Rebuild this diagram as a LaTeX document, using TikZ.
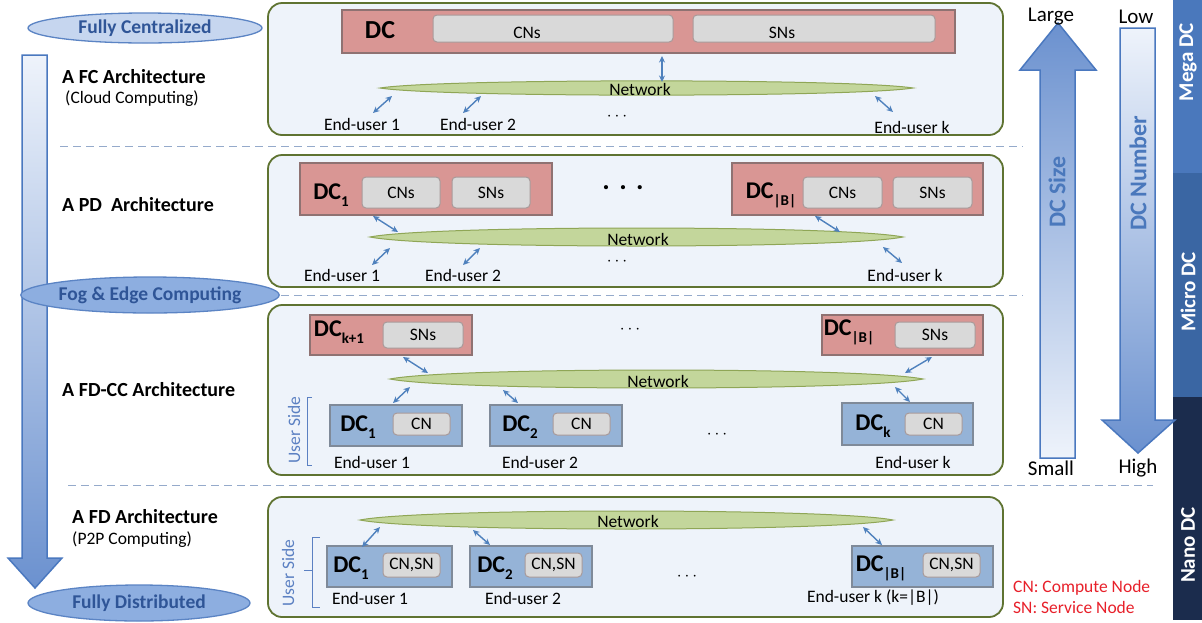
\documentclass[tikz,border=0pt]{standalone}
\usepackage{fontspec}
\setmainfont{Carlito}
\usetikzlibrary{arrows.meta,shapes.geometric,calc}
\definecolor{panelfill}{HTML}{EEF3FA}
\definecolor{panelborder}{HTML}{5F7331}
\definecolor{redfill}{HTML}{D99694}
\definecolor{redborder}{HTML}{8F7272}
\definecolor{bluefill}{HTML}{95B3D7}
\definecolor{blueborder}{HTML}{7F8A99}
\definecolor{grayfill}{HTML}{D9D9D9}
\definecolor{grayborder}{HTML}{A89A9A}
\definecolor{netfill}{HTML}{C3D69B}
\definecolor{netborder}{HTML}{8FA656}
\definecolor{arrowblue}{HTML}{4F81BD}
\definecolor{sepcol}{HTML}{95AACB}
\definecolor{ellborder}{HTML}{5B84C4}
\definecolor{ellfillA}{HTML}{C6D6EF}
\definecolor{ellfillB}{HTML}{8DAEE0}
\definecolor{elltext}{HTML}{2F5597}
\definecolor{userside}{HTML}{5B80C2}
\definecolor{legendred}{HTML}{E8202A}
\definecolor{megacol}{HTML}{4A78BC}
\definecolor{microcol}{HTML}{3A66A3}
\definecolor{nanocol}{HTML}{1B2C4D}
\definecolor{arrowdark}{HTML}{6B91CF}
\definecolor{arrowlight}{HTML}{EEF3FB}
\definecolor{arrowborder}{HTML}{4A78BF}
\newcommand\dcs[1]{\raisebox{-0.3em}{\fontsize{15}{15}\selectfont #1}}
\newcommand\lens[4]{\draw[netw] (#1,#3) .. controls (#1+60,#3-#4) and (#2-60,#3-#4) .. (#2,#3) .. controls (#2-60,#3+#4) and (#1+60,#3+#4) .. cycle;}
\begin{document}
\begin{tikzpicture}[x=1pt,y=-1pt,
  panel/.style={draw=panelborder,fill=panelfill,line width=1.8pt,rounded corners=14pt},
  reddc/.style={draw=redborder,fill=redfill,line width=1.5pt,inner sep=0pt,outer sep=0pt},
  bluedc/.style={draw=blueborder,fill=bluefill,line width=1.5pt,inner sep=0pt,outer sep=0pt},
  subbox/.style={draw=grayborder,fill=grayfill,line width=1pt,rounded corners=4pt,inner sep=0pt,outer sep=0pt,font=\fontsize{17.5}{18}\selectfont},
  biarrow/.style={draw=arrowblue,line width=1.4pt,{Stealth[length=6.5pt,width=6pt]}-{Stealth[length=6.5pt,width=6pt]}},
  lbl/.style={font=\fontsize{17.5}{18}\selectfont,inner sep=0pt},
  dclbl/.style={font=\bfseries\fontsize{24}{24}\selectfont,inner sep=0pt},
  archlbl/.style={font=\bfseries\fontsize{20}{22}\selectfont,inner sep=0pt,anchor=west},
  sublbl/.style={font=\fontsize{17.5}{18}\selectfont,inner sep=0pt,anchor=west},
  sep/.style={draw=sepcol,dash pattern=on 8pt off 5pt,line width=1pt},
  netw/.style={draw=netborder,fill=netfill,line width=1pt},
  ell/.style={ellipse,draw=ellborder,line width=1.3pt,inner sep=0pt,text=elltext,font=\bfseries\fontsize{19.5}{20}\selectfont},
  sidelbl/.style={rotate=90,text=megacol,font=\bfseries\fontsize{24}{24}\selectfont,inner sep=0pt},
  barlbl/.style={rotate=90,text=white,font=\bfseries\fontsize{21}{21}\selectfont,inner sep=0pt},
  scalelbl/.style={font=\fontsize{21}{21}\selectfont,inner sep=0pt},
  usl/.style={rotate=90,text=userside,font=\fontsize{17.5}{18}\selectfont,inner sep=0pt},
  legend/.style={text=legendred,font=\fontsize{17.5}{18}\selectfont,inner sep=0pt,anchor=west},
  dots/.style={font=\fontsize{17.5}{18}\selectfont,inner sep=0pt},
  bigdots/.style={font=\bfseries\fontsize{28}{28}\selectfont,inner sep=0pt}
]
\useasboundingbox (0,0) rectangle (1202,622);
\fill[white] (0,0) rectangle (1202,622);

% ---------- panels ----------
\draw[panel] (268,3) rectangle (1003,135);
\draw[panel] (268,155) rectangle (1003,287);
\draw[panel] (268,305) rectangle (1003,475);
\draw[panel] (268,497) rectangle (1003,617);

% ---------- separators ----------
\draw[sep] (60,146) -- (1023,146);
\draw[sep] (268,295) -- (1023,295);
\draw[sep] (68,485) -- (1153,485);

% ---------- panel 1 ----------
\node[reddc,minimum width=613pt,minimum height=43pt] (dc0) at (648.5,31.5) {};
\node[dclbl,font=\bfseries\fontsize{26}{26}\selectfont] (dc0l) at (380,30) {DC};
\node[subbox,minimum width=240pt,minimum height=27pt] (cn0) at (553,28.5) {};
\node[lbl] (cn0l) at (527,33) {CNs};
\node[subbox,minimum width=242pt,minimum height=27pt] (sn0) at (814,28.5) {};
\node[lbl] (sn0l) at (782,33) {SNs};
\lens{380}{913}{88}{9.5}
\node[lbl] (net1) at (640,89) {Network};
\path (662,56) coordinate (p1a) (662,82) coordinate (p1b);
\draw[biarrow] (p1a) -- (p1b);
\node[lbl] (eu1a) at (362,124) {End-user 1};
\node[lbl] (eu1b) at (478,124) {End-user 2};
\node[dots] (d1) at (617,117) {$\cdot$\,$\cdot$\,$\cdot$};
\node[lbl] (eu1k) at (912,127) {End-user k};
\path (373,113) coordinate (q1a) (392,96) coordinate (q1b)
      (463,113) coordinate (q2a) (481,96) coordinate (q2b)
      (875,96) coordinate (q3a) (893,112) coordinate (q3b);
\draw[biarrow] (q1a) -- (q1b);
\draw[biarrow] (q2a) -- (q2b);
\draw[biarrow] (q3a) -- (q3b);

% ---------- panel 2 ----------
\node[reddc,minimum width=252pt,minimum height=52pt] (dc21) at (426,189) {};
\node[dclbl] (dc21l) at (331,195) {DC\dcs{1}};
\node[subbox,minimum width=78pt,minimum height=31pt] (cn21) at (401,192.5) {CNs};
\node[subbox,minimum width=78pt,minimum height=31pt] (sn21) at (491,192.5) {SNs};
\node[bigdots] (d2a) at (623,188) {.\,\,.\,\,.};
\node[reddc,minimum width=251pt,minimum height=52pt] (dc2b) at (857.5,189) {};
\node[dclbl] (dc2bl) at (771,195) {DC\dcs{|B|}};
\node[subbox,minimum width=79pt,minimum height=31pt] (cn2b) at (842.5,192.5) {CNs};
\node[subbox,minimum width=79pt,minimum height=31pt] (sn2b) at (932.5,192.5) {SNs};
\lens{370}{903}{237}{12}
\node[lbl] (net2) at (638,239) {Network};
\node[lbl] (eu2a) at (342,275) {End-user 1};
\node[lbl] (eu2b) at (463,275) {End-user 2};
\node[dots] (d2b) at (617,262) {$\cdot$\,$\cdot$\,$\cdot$};
\node[lbl] (eu2k) at (905,275) {End-user k};
\path (373,216) coordinate (r1a) (398,232) coordinate (r1b)
      (372,265) coordinate (r2a) (390,248) coordinate (r2b)
      (463,265) coordinate (r3a) (480,248) coordinate (r3b)
      (815,216) coordinate (r4a) (840,232) coordinate (r4b)
      (883,247) coordinate (r5a) (902,263) coordinate (r5b);
\draw[biarrow] (r1a) -- (r1b);
\draw[biarrow] (r2a) -- (r2b);
\draw[biarrow] (r3a) -- (r3b);
\draw[biarrow] (r4a) -- (r4b);
\draw[biarrow] (r5a) -- (r5b);

% ---------- panel 3 ----------
\node[reddc,minimum width=162pt,minimum height=40pt] (dc3k) at (391,335) {};
\node[dclbl] (dc3kl) at (339,332) {DC\dcs{k+1}};
\node[subbox,minimum width=80pt,minimum height=26pt] (sn3k) at (423,335) {SNs};
\node[dots] (d3a) at (630,330) {$\cdot$\,$\cdot$\,$\cdot$};
\node[reddc,minimum width=161pt,minimum height=40pt] (dc3b) at (902.5,335) {};
\node[dclbl] (dc3bl) at (849,332) {DC\dcs{|B|}};
\node[subbox,minimum width=80pt,minimum height=26pt] (sn3b) at (935,335) {SNs};
\lens{390}{923}{379}{12}
\node[lbl] (net3) at (658,381) {Network};
\node[bluedc,minimum width=132pt,minimum height=41pt] (dc31) at (396,425.5) {};
\node[dclbl] (dc31l) at (358,427) {DC\dcs{1}};
\node[subbox,minimum width=57pt,minimum height=22pt] (cn31) at (421.5,424) {CN};
\node[bluedc,minimum width=132pt,minimum height=41pt] (dc32) at (556,425.5) {};
\node[dclbl] (dc32l) at (520,427) {DC\dcs{2}};
\node[subbox,minimum width=57pt,minimum height=22pt] (cn32) at (581.5,424) {CN};
\node[dots] (d3b) at (717,435) {$\cdot$\,$\cdot$\,$\cdot$};
\node[bluedc,minimum width=131pt,minimum height=42pt] (dc3kk) at (907.5,424) {};
\node[dclbl] (dc3kkl) at (873,426) {DC\dcs{k}};
\node[subbox,minimum width=57pt,minimum height=22pt] (cn3kk) at (933.5,424) {CN};
\node[lbl] (eu3a) at (372,462) {End-user 1};
\node[lbl] (eu3b) at (540,462) {End-user 2};
\node[lbl] (eu3k) at (913,462) {End-user k};
\node[usl] (us3) at (294,430) {User Side};
\draw[userside,line width=1pt] (312,397) -- (307,397) -- (307,465) -- (312,465);
\path (403,357) coordinate (s1a) (428,373) coordinate (s1b)
      (393,403) coordinate (s2a) (410,387) coordinate (s2b)
      (503,390) coordinate (s3a) (518,403) coordinate (s3b)
      (932,357) coordinate (s4a) (905,373) coordinate (s4b)
      (895,387) coordinate (s5a) (910,402) coordinate (s5b);
\draw[biarrow] (s1a) -- (s1b);
\draw[biarrow] (s2a) -- (s2b);
\draw[biarrow] (s3a) -- (s3b);
\draw[biarrow] (s4a) -- (s4b);
\draw[biarrow] (s5a) -- (s5b);

% ---------- panel 4 ----------
\lens{360}{893}{520}{12}
\node[lbl] (net4) at (628,521) {Network};
\node[bluedc,minimum width=125pt,minimum height=41pt] (dc41) at (389.5,566.5) {};
\node[dclbl] (dc41l) at (351,568) {DC\dcs{1}};
\node[subbox,minimum width=57pt,minimum height=24pt] (cs41) at (411.5,565) {CN,SN};
\node[bluedc,minimum width=122pt,minimum height=41pt] (dc42) at (531,566.5) {};
\node[dclbl] (dc42l) at (495,568) {DC\dcs{2}};
\node[subbox,minimum width=57pt,minimum height=24pt] (cs42) at (553.5,565) {CN,SN};
\node[dots] (d4) at (687,577) {$\cdot$\,$\cdot$\,$\cdot$};
\node[bluedc,minimum width=141pt,minimum height=41pt] (dc4b) at (922.5,566.5) {};
\node[dclbl] (dc4bl) at (881,568) {DC\dcs{|B|}};
\node[subbox,minimum width=57pt,minimum height=24pt] (cs4b) at (951.5,565) {CN,SN};
\node[lbl] (eu4a) at (370,598) {End-user 1};
\node[lbl] (eu4b) at (523,598) {End-user 2};
\node[lbl] (eu4k) at (873,598) {End-user k (k=|B|)};
\node[usl] (us4) at (288,573) {User Side};
\draw[userside,line width=1pt] (320,537) -- (312,537) -- (312,607) -- (320,607) (312,570) -- (304,570);
\path (362,547) coordinate (t1a) (380,527) coordinate (t1b)
      (473,530) coordinate (t2a) (490,545) coordinate (t2b)
      (863,527) coordinate (t3a) (882,545) coordinate (t3b);
\draw[biarrow] (t1a) -- (t1b);
\draw[biarrow] (t2a) -- (t2b);
\draw[biarrow] (t3a) -- (t3b);

% ---------- left column ----------
\shade[draw=arrowborder,line width=1.5pt,top color=arrowlight,bottom color=arrowdark]
  (22,55) -- (47,55) -- (47,558) -- (62,558) -- (35,588) -- (8,558) -- (22,558) -- cycle;
\node[ell,fill=ellfillA,minimum width=234pt,minimum height=30pt] (fc) at (145,28) {Fully Centralized};
\node[ell,fill=ellfillB,minimum width=226pt,minimum height=36pt] (fog) at (150,295) {Fog \& Edge Computing};
\node[ell,fill=ellfillB,minimum width=222pt,minimum height=36pt] (fd) at (139,603) {Fully Distributed};
\node[archlbl] (a1) at (62,77) {A FC Architecture};
\node[sublbl] (a1s) at (65,99) {(Cloud Computing)};
\node[archlbl] (a2) at (62,205) {A PD\ \ Architecture};
\node[archlbl] (a3) at (62,390) {A FD-CC Architecture};
\node[archlbl] (a4) at (72,517) {A FD Architecture};
\node[sublbl] (a4s) at (72,540) {(P2P Computing)};

% ---------- right column ----------
\fill[megacol] (1173,0) rectangle (1202,173);
\fill[microcol] (1173,173) rectangle (1202,397);
\fill[nanocol] (1173,397) rectangle (1202,620);
\node[barlbl] (mega) at (1188,62) {Mega DC};
\node[barlbl] (micro) at (1188,292) {Micro DC};
\node[barlbl] (nano) at (1188,545) {Nano DC};
\shade[draw=arrowborder,line width=1.5pt,top color=arrowdark,bottom color=arrowlight]
  (1040,458) -- (1040,70) -- (1020,70) -- (1058,23) -- (1096,70) -- (1075,70) -- (1075,458) -- cycle;
\shade[draw=arrowborder,line width=1.5pt,top color=arrowlight,bottom color=arrowdark]
  (1120,28) -- (1155,28) -- (1155,420) -- (1175,420) -- (1138,453) -- (1102,420) -- (1120,420) -- cycle;
\node[sidelbl] (dcsize) at (1057,192) {DC Size};
\node[sidelbl] (dcnum) at (1138,173) {DC Number};
\node[scalelbl] (large) at (1051,17) {Large};
\node[scalelbl] (low) at (1136,17) {Low};
\node[scalelbl] (small) at (1051,468) {Small};
\node[scalelbl] (high) at (1138,468) {High};
\node[legend] (lg1) at (1013,588) {CN: Compute Node};
\node[legend] (lg2) at (1013,607) {SN: Service Node};
\end{tikzpicture}
\end{document}
